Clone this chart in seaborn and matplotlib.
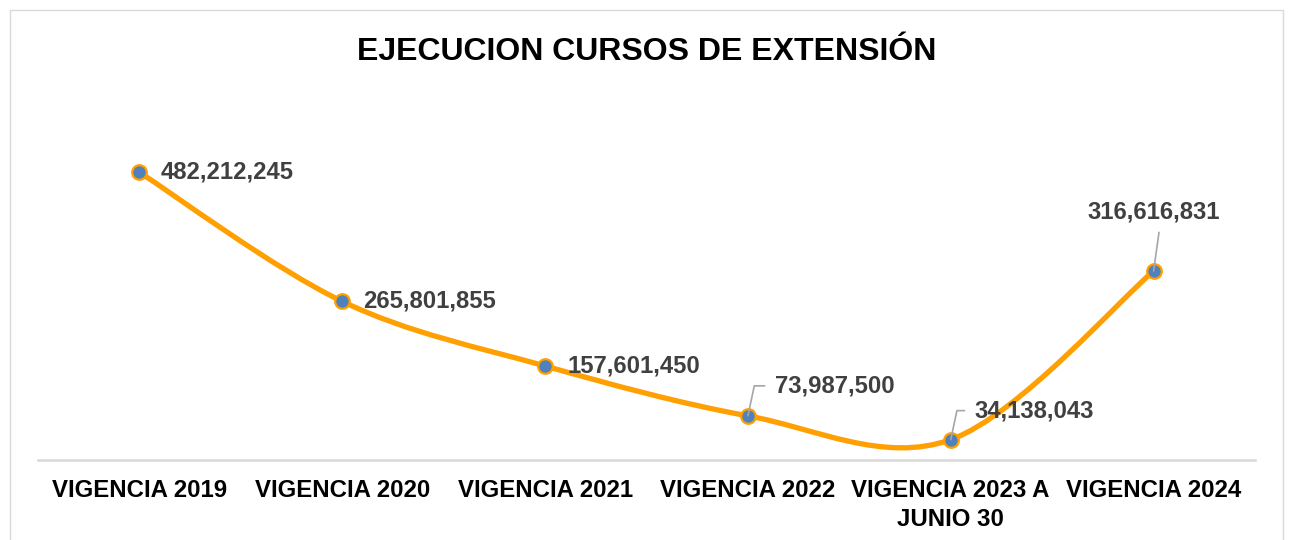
import numpy as np
import pandas as pd
import seaborn as sns
import matplotlib.pyplot as plt
from matplotlib.path import Path
from matplotlib.patches import PathPatch, Rectangle

# Data
categories = ['VIGENCIA 2019', 'VIGENCIA 2020', 'VIGENCIA 2021', 'VIGENCIA 2022',
              'VIGENCIA 2023 A\nJUNIO 30', 'VIGENCIA 2024']
values = [482212245, 265801855, 157601450, 73987500, 34138043, 316616831]
title = 'EJECUCION CURSOS DE EXTENSIÓN'

# label placement (pixel offsets from each point) and leader style
label_offsets = [(21, 0), (21, 0), (22, 0), (27, 30), (24, 29), (0, 59)]
label_leader = [None, None, None, 'angle', 'angle', 'straight']

df = pd.DataFrame({'x': np.arange(len(values)), 'value': values})

sns.set_theme(style='white')
plt.rcParams['font.family'] = ['Liberation Sans', 'DejaVu Sans']

fig = plt.figure(figsize=(12.9, 5.4), dpi=100)
ax = fig.add_axes([38 / 1290, 80 / 540, 1217 / 1290, 358 / 540])

# Smooth line like Excel: cubic Bezier with control points from neighbours
pts = df[['x', 'value']].to_numpy(dtype=float)
ext = np.vstack([pts[0], pts, pts[-1]])
verts = [tuple(pts[0])]
codes = [Path.MOVETO]
for i in range(len(pts) - 1):
    p0, p1, p2, p3 = ext[i], ext[i + 1], ext[i + 2], ext[i + 3]
    c1 = p1 + (p2 - p0) / 6
    c2 = p2 - (p3 - p1) / 6
    verts += [tuple(c1), tuple(c2), tuple(p2)]
    codes += [Path.CURVE4] * 3
ax.add_patch(PathPatch(Path(verts, codes), fill=False, edgecolor='#FF9F00',
                       lw=3.8, capstyle='round', zorder=2))

sns.scatterplot(data=df, x='x', y='value', ax=ax, s=110, color='#4F81BD',
                edgecolor='#FF9F00', linewidth=1.6, zorder=3, legend=False)

for i, v in enumerate(values):
    dx, dy = label_offsets[i]
    kind = label_leader[i]
    if kind is None:
        ax.annotate(f'{v:,}', (i, v), xytext=(dx, dy), textcoords='offset pixels',
                    ha='left', va='center', fontsize=17.2, fontweight='bold',
                    color='#404040', zorder=4)
    elif kind == 'angle':
        ax.annotate(f'{v:,}', (i, v), xytext=(dx, dy), textcoords='offset pixels',
                    ha='left', va='center', fontsize=17.2, fontweight='bold',
                    color='#404040', zorder=4,
                    arrowprops=dict(arrowstyle='-', color='#A6A6A6', lw=1.2,
                                    shrinkA=5, shrinkB=0, relpos=(0, 0.5),
                                    connectionstyle='angle,angleA=0,angleB=78,rad=0'))
    else:
        ax.annotate(f'{v:,}', (i, v), xytext=(dx, dy), textcoords='offset pixels',
                    ha='center', va='center', fontsize=17.2, fontweight='bold',
                    color='#404040', zorder=4,
                    arrowprops=dict(arrowstyle='-', color='#A6A6A6', lw=1.2,
                                    shrinkA=4, shrinkB=0, relpos=(0.55, 0)))

ax.set_xlim(-0.5, len(values) - 0.5)
ax.set_ylim(0, 600e6)
ax.set_xticks(df['x'])
ax.set_xticklabels(categories, fontsize=17.3, fontweight='bold', color='black',
                   linespacing=1.3)
ax.tick_params(axis='x', length=0, pad=14)
ax.set_yticks([])
ax.set_xlabel('')
ax.set_ylabel('')
for side in ['top', 'left', 'right']:
    ax.spines[side].set_visible(False)
ax.spines['bottom'].set_color('#D9D9D9')
ax.spines['bottom'].set_linewidth(1.8)

fig.text(647 / 1290, 1 - 52 / 540, title, ha='center', va='center',
         fontsize=23, fontweight='bold', color='black')

# chart area border
fig.patches.append(Rectangle((10 / 1290, -0.05), 1273 / 1290, 1 - 10 / 540 + 0.05,
                             transform=fig.transFigure, fill=False,
                             edgecolor='#D9D9D9', lw=1))

fig.savefig('out.png', dpi=100)
